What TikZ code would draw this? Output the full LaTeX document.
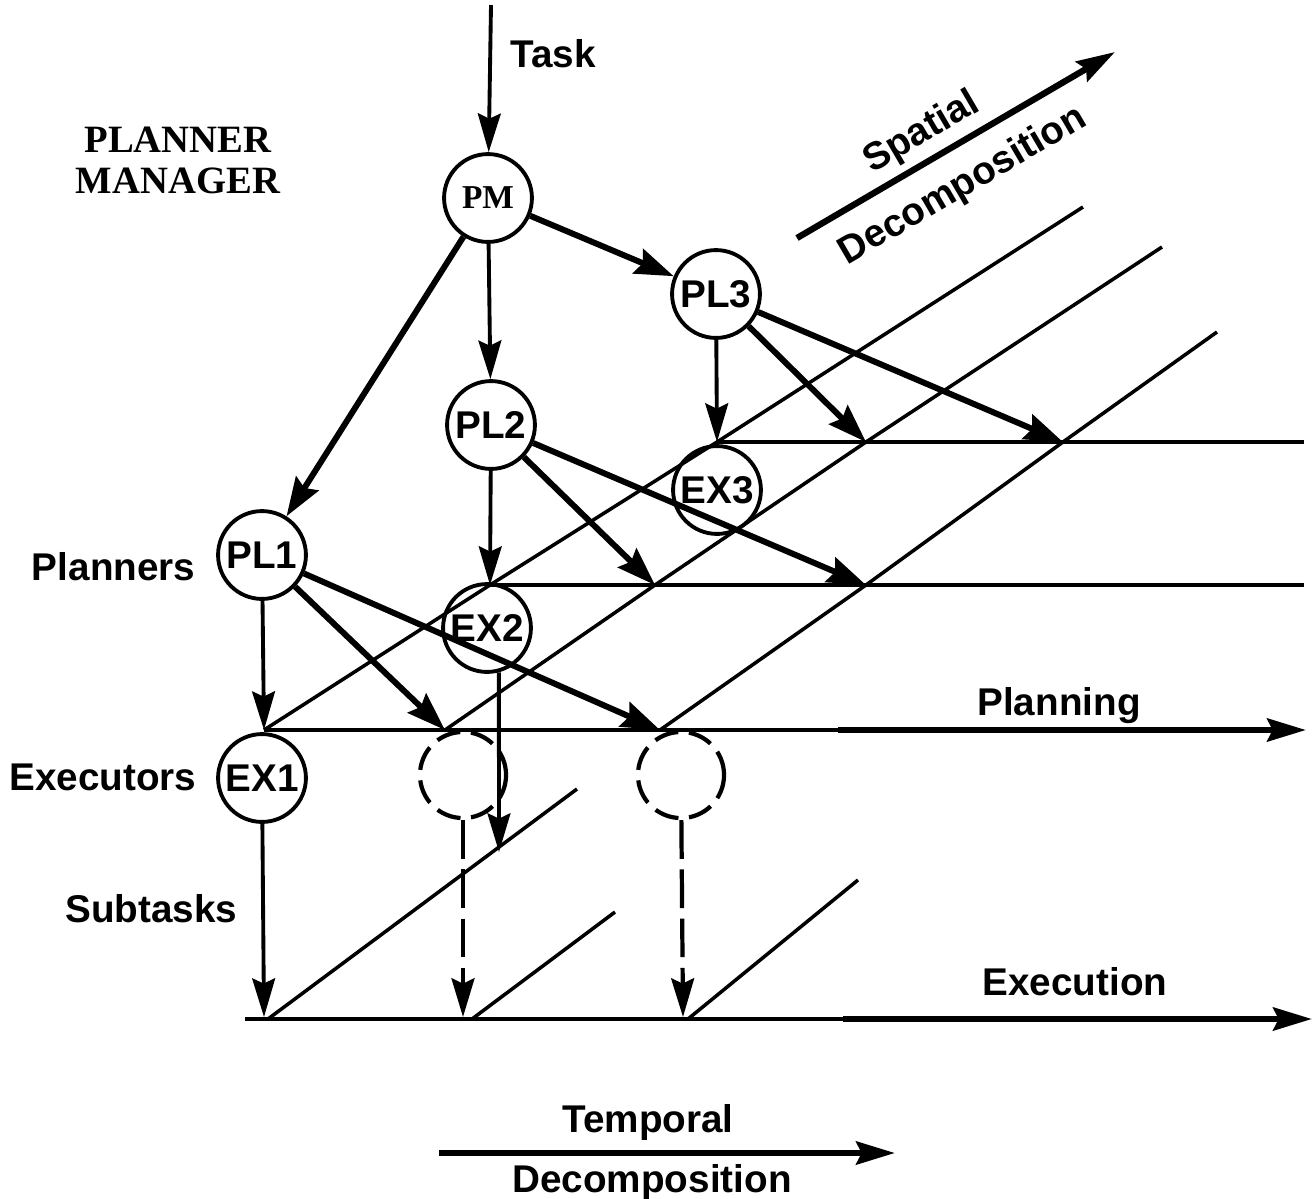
\documentclass[tikz,border=0pt]{standalone}
\usepackage{fontspec}
\setmainfont{Liberation Sans}
\newfontfamily\labserif{Liberation Serif}
\usetikzlibrary{arrows.meta}

\begin{document}
\begin{tikzpicture}[x=0.1mm,y=-0.1mm,
    font=\fontsize{11}{13}\selectfont\bfseries,
    proc/.style={circle,draw,line width=1.1pt,minimum size=25pt,inner sep=0pt},
    ghost/.style={circle,draw,line width=1.2pt,minimum size=24.5pt,inner sep=0pt,dash pattern=on 7pt off 3pt},
    lab/.style={inner sep=0pt},
    lvl/.style={line width=1pt},
    thinarr/.style={line width=1.1pt,-{Stealth[length=11pt,width=6.5pt,inset=1.5pt]}},
    thickarr/.style={line width=1.7pt,-{Stealth[length=11pt,width=7.5pt,inset=1.5pt]}},
    dasharr/.style={line width=1.2pt,dash pattern=on 11pt off 3pt,-{Stealth[length=11pt,width=6.5pt,inset=1.5pt]}},
    bigarr/.style={line width=1.8pt,-{Stealth[length=11pt,width=6.5pt,inset=1.5pt]}}]
        \useasboundingbox (0,0) rectangle (1314,1199);

        % nodes
        \node[proc] (PM) at (488,198) {\labserif\fontsize{9.5}{10}\selectfont\bfseries PM};
        \node[proc] (PL3) at (716,294) {PL3};
        \node[proc] (PL2) at (491,425) {PL2};
        \node[proc] (PL1) at (262,555) {PL1};
        \node[proc] (EX3) at (717,490) {EX3};
        \node[proc] (EX2) at (487,628) {EX2};
        \node[proc] (EX1) at (262,778) {EX1};
        \node[ghost] (G1) at (463,775) {};
        \node[ghost] (G2) at (681,775) {};

        % points on the levels
        \coordinate (a3) at (717,442);  \coordinate (b3) at (866,442);  \coordinate (c3) at (1063,442);
        \coordinate (a2) at (490,585);  \coordinate (b2) at (655,585);  \coordinate (c2) at (866,585);
        \coordinate (a1) at (264,730);  \coordinate (b1) at (445,730);  \coordinate (c1) at (660,730);
        \coordinate (t1) at (1083,207); \coordinate (t2) at (1162,247); \coordinate (t3) at (1217,332);
        \coordinate (r3) at (1304,442); \coordinate (r2) at (1304,585);
        \coordinate (p0) at (838,730);  \coordinate (p1) at (1306,730);
        \coordinate (e0) at (245,1019); \coordinate (e1) at (843,1019); \coordinate (e2) at (1312,1019);
        \coordinate (s1) at (268,1019); \coordinate (u1) at (577,789);
        \coordinate (s2) at (472,1019); \coordinate (u2) at (615,912);
        \coordinate (s3) at (688,1019); \coordinate (u3) at (858,880);
        \coordinate (x1) at (264,1017); \coordinate (x2) at (463,1017); \coordinate (x3) at (683,1017);
        \coordinate (xe) at (499,852);
        \coordinate (tk) at (491,5);

        % levels
        \draw[lvl] (a3) -- (r3);                     % upper level
        \draw[lvl] (a2) -- (r2);                     % middle level
        \draw[lvl] (a1) -- (p0);                     % planning
        \draw[bigarr] (p0) -- (p1);
        \draw[lvl] (e0) -- (e1);                     % execution
        \draw[bigarr] (e1) -- (e2);

        % spatial diagonals
        \draw[lvl] (a1) -- (a2) -- (a3) -- (t1);
        \draw[lvl] (b1) -- (b2) -- (b3) -- (t2);
        \draw[lvl] (c1) -- (c2) -- (c3) -- (t3);
        \draw[lvl] (s1) -- (u1);
        \draw[lvl] (s2) -- (u2);
        \draw[lvl] (s3) -- (u3);

        % manager and planners
        \draw[thinarr] (tk) -- (PM);
        \draw[thickarr] (PM) -- (PL3);
        \draw[thinarr] (PM) -- (PL2);
        \draw[thickarr] (PM) -- (PL1);
        \draw[thinarr] (PL3) -- (a3);
        \draw[thickarr] (PL3) -- (b3);
        \draw[thickarr] (PL3) -- (c3);
        \draw[thinarr] (PL2) -- (a2);
        \draw[thickarr] (PL2) -- (b2);
        \draw[thickarr] (PL2) -- (c2);
        \draw[thinarr] (PL1) -- (a1);
        \draw[thickarr] (PL1) -- (b1);
        \draw[thickarr] (PL1) -- (c1);

        % executors
        \draw[thinarr] (EX1) -- (x1);
        \draw[thinarr] (EX2.-75) -- (xe);
        \draw[dasharr] (G1) -- (x2);
        \draw[dasharr] (G2) -- (x3);

        % labels
        \node[lab,font=\labserif\bfseries\fontsize{11}{11.7}\selectfont,align=center] (pmlab) at (178,160) {PLANNER\\MANAGER};
        \node[lab,anchor=base west] (tasklab) at (510,67) {Task};
        \node[lab,anchor=base east] (pllab) at (196,580) {Planners};
        \node[lab,anchor=base east] (exlab) at (197,790) {Executors};
        \node[lab,anchor=base east] (sublab) at (238,922) {Subtasks};
        \node[lab,anchor=base] (planlab) at (1059,715) {Planning};
        \node[lab,anchor=base] (execlab) at (1075,995) {Execution};

        % decomposition arrows
        \coordinate (sp0) at (797,238); \coordinate (sp1) at (1115,52);
        \draw[bigarr] (sp0) -- (sp1);
        \node[lab,rotate=30.3] (splab) at (922,133) {Spatial};
        \node[lab,rotate=30.3] (sdlab) at (963,186) {Decomposition};
        \coordinate (tp0) at (439,1153); \coordinate (tp1) at (895,1153);
        \draw[bigarr] (tp0) -- (tp1);
        \node[lab,anchor=base] (tplab) at (648,1132) {Temporal};
        \node[lab,anchor=base] (tdlab) at (652,1192) {Decomposition};

    \end{tikzpicture}
\end{document}
